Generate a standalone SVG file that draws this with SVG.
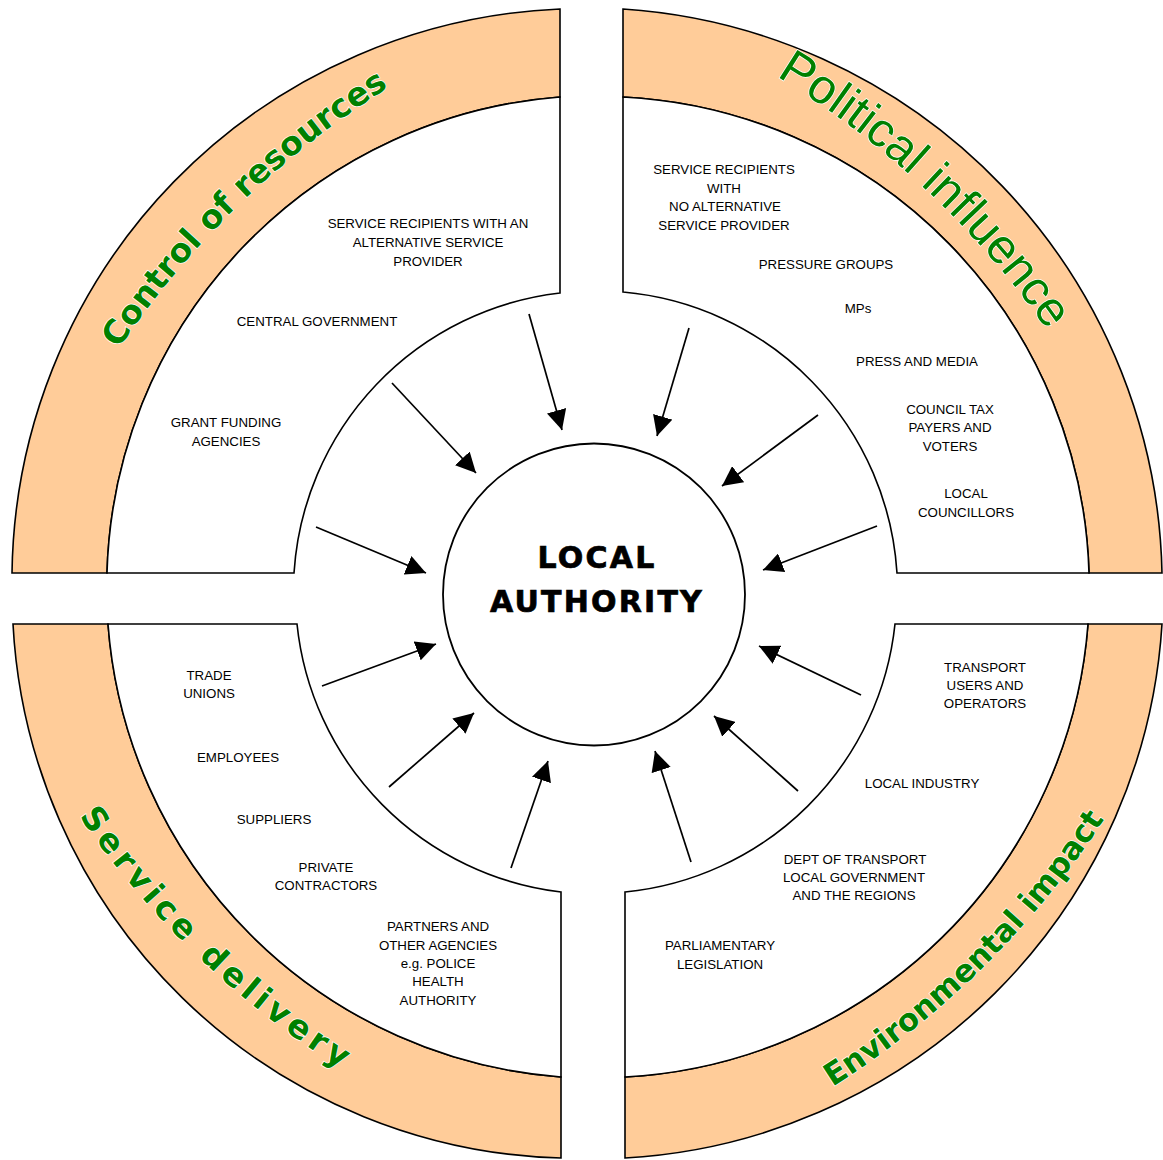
<svg xmlns="http://www.w3.org/2000/svg" xmlns:xlink="http://www.w3.org/1999/xlink" width="1163" height="1160" viewBox="0 0 1163 1160">
<style>
.band{fill:#FFCC99;stroke:#000;stroke-width:1.6;stroke-linejoin:miter}
.zone{fill:#FFFFFF;stroke:#000;stroke-width:1.6}
.lbl{font-family:"Liberation Sans",Arial,sans-serif;font-size:13.3px;fill:#000;text-anchor:middle}
.ttl{font-family:"DejaVu Sans",Verdana,sans-serif;font-weight:bold;fill:#008000;stroke:#ffffff;stroke-width:1.4;paint-order:stroke fill}
.ttlr{font-family:"Liberation Sans",Arial,sans-serif;font-weight:normal;fill:#008000;stroke:#ffffff;stroke-width:1.4;paint-order:stroke fill}
.arr{stroke:#000;stroke-width:1.7;fill:none;marker-end:url(#ah)}
.core{fill:#fff;stroke:#000;stroke-width:1.8}
.core-t{font-family:"DejaVu Sans",Verdana,sans-serif;font-weight:bold;font-size:30px;letter-spacing:2.2px;fill:#000;stroke:#000;stroke-width:0.7;text-anchor:middle}
</style>
<defs>
<marker id="ah" markerUnits="userSpaceOnUse" viewBox="0 0 20 20" markerWidth="20" markerHeight="20" refX="20" refY="10" orient="auto">
<path d="M0,0 L20,10 L0,20 z" fill="#000"/>
</marker>
<path id="tp-tl" d="M118.6,349 A900,900 0 0 1 446,54.4" fill="none"/>
<path id="tp-tr" d="M776.2,76.1 A893,893 0 0 1 1087.6,393.9" fill="none"/>
<path id="tp-bl" d="M79.1,816.1 A900,900 0 0 0 399.4,1102.8" fill="none"/>
<path id="tp-br" d="M832.4,1087 A900,900 0 0 0 1138.4,762.7" fill="none"/>
</defs>
<rect width="1163" height="1160" fill="#fff"/>

<g id="quadrant-control-of-resources">
<path class="band" d="M12,573 A572,572 0 0 1 560,9 L560,97 A491,491 0 0 0 107,573 Z"/>
<path class="zone" d="M107,573 A491,491 0 0 1 560,97 L560,293 A301,301 0 0 0 294,573 Z"/>
<text class="ttl" font-size="33"><textPath xlink:href="#tp-tl" href="#tp-tl">Control of resources</textPath></text>
<text class="lbl" x="428" y="228">SERVICE RECIPIENTS WITH AN</text>
<text class="lbl" x="428" y="247">ALTERNATIVE SERVICE</text>
<text class="lbl" x="428" y="266">PROVIDER</text>
<text class="lbl" x="317" y="326">CENTRAL GOVERNMENT</text>
<text class="lbl" x="226" y="427">GRANT FUNDING</text>
<text class="lbl" x="226" y="446">AGENCIES</text>
</g>

<g id="quadrant-political-influence">
<path class="band" d="M623,9 A577,577 0 0 1 1162,573 L1089,573 A491,491 0 0 0 623,97 Z"/>
<path class="zone" d="M623,97 A491,491 0 0 1 1089,573 L897,573 A301,301 0 0 0 623,292 Z"/>
<text class="ttlr" font-size="48.5"><textPath xlink:href="#tp-tr" href="#tp-tr">Political influence</textPath></text>
<text class="lbl" x="724" y="174">SERVICE RECIPIENTS</text>
<text class="lbl" x="724" y="193">WITH</text>
<text class="lbl" x="725" y="211">NO ALTERNATIVE</text>
<text class="lbl" x="724" y="230">SERVICE PROVIDER</text>
<text class="lbl" x="826" y="269">PRESSURE GROUPS</text>
<text class="lbl" x="858" y="313">MPs</text>
<text class="lbl" x="917" y="366">PRESS AND MEDIA</text>
<text class="lbl" x="950" y="414">COUNCIL TAX</text>
<text class="lbl" x="950" y="432">PAYERS AND</text>
<text class="lbl" x="950" y="451">VOTERS</text>
<text class="lbl" x="966" y="498">LOCAL</text>
<text class="lbl" x="966" y="517">COUNCILLORS</text>
</g>

<g id="quadrant-environmental-impact">
<path class="band" d="M1162,624 A570,570 0 0 1 625,1158 L625,1077 A491,491 0 0 0 1088,624 Z"/>
<path class="zone" d="M1088,624 A491,491 0 0 1 625,1077 L625,892 A301,301 0 0 0 895,624 Z"/>
<text class="ttl" font-size="31"><textPath xlink:href="#tp-br" href="#tp-br">Environmental impact</textPath></text>
<text class="lbl" x="985" y="672">TRANSPORT</text>
<text class="lbl" x="985" y="690">USERS AND</text>
<text class="lbl" x="985" y="708">OPERATORS</text>
<text class="lbl" x="922" y="788">LOCAL INDUSTRY</text>
<text class="lbl" x="855" y="864">DEPT OF TRANSPORT</text>
<text class="lbl" x="854" y="882">LOCAL GOVERNMENT</text>
<text class="lbl" x="854" y="900">AND THE REGIONS</text>
<text class="lbl" x="720" y="950">PARLIAMENTARY</text>
<text class="lbl" x="720" y="969">LEGISLATION</text>
</g>

<g id="quadrant-service-delivery">
<path class="band" d="M13,624 L108,624 A491,491 0 0 0 561,1077 L561,1158 A564,564 0 0 1 13,624 Z"/>
<path class="zone" d="M108,624 L297,624 A301,301 0 0 0 561,892 L561,1077 A491,491 0 0 1 108,624 Z"/>
<text class="ttl" font-size="33" letter-spacing="4.5"><textPath xlink:href="#tp-bl" href="#tp-bl">Service delivery</textPath></text>
<text class="lbl" x="209" y="680">TRADE</text>
<text class="lbl" x="209" y="698">UNIONS</text>
<text class="lbl" x="238" y="762">EMPLOYEES</text>
<text class="lbl" x="274" y="824">SUPPLIERS</text>
<text class="lbl" x="326" y="872">PRIVATE</text>
<text class="lbl" x="326" y="890">CONTRACTORS</text>
<text class="lbl" x="438" y="931">PARTNERS AND</text>
<text class="lbl" x="438" y="950">OTHER AGENCIES</text>
<text class="lbl" x="438" y="968">e.g. POLICE</text>
<text class="lbl" x="438" y="986">HEALTH</text>
<text class="lbl" x="438" y="1005">AUTHORITY</text>
</g>

<g id="connectors">
<line class="arr" x1="529" y1="314" x2="562" y2="430"/>
<line class="arr" x1="392" y1="383" x2="476" y2="473"/>
<line class="arr" x1="316" y1="527" x2="426" y2="573"/>
<line class="arr" x1="322" y1="686" x2="436" y2="644"/>
<line class="arr" x1="389" y1="787" x2="474" y2="713"/>
<line class="arr" x1="511" y1="868" x2="548" y2="761"/>
<line class="arr" x1="691" y1="862" x2="655" y2="751"/>
<line class="arr" x1="798" y1="791" x2="714" y2="716"/>
<line class="arr" x1="861" y1="695" x2="759" y2="646"/>
<line class="arr" x1="877" y1="526" x2="763" y2="570"/>
<line class="arr" x1="818" y1="415" x2="722" y2="486"/>
<line class="arr" x1="689" y1="328" x2="657" y2="436"/>
</g>

<g id="local-authority">
<circle class="core" cx="594" cy="594.5" r="151"/>
<text class="core-t" x="597" y="568">LOCAL</text>
<text class="core-t" x="597" y="612">AUTHORITY</text>
</g>
</svg>
